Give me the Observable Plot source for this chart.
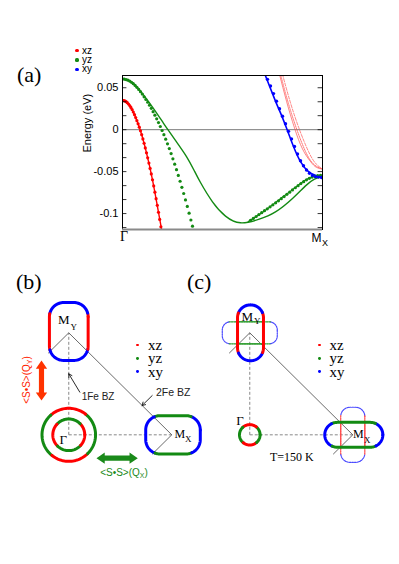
<!DOCTYPE html>
<html><head><meta charset="utf-8">
<script src="https://cdn.jsdelivr.net/npm/d3@7"></script>
<script src="https://cdn.jsdelivr.net/npm/@observablehq/plot@0.6"></script>
<style>
body{margin:0;background:#fff;}
#wrap{position:relative;width:399px;height:564px;overflow:hidden;background:#fff;}
.abs{position:absolute;white-space:nowrap;line-height:1;}
#wrap svg{position:absolute;}
</style></head>
<body><div id="wrap"></div>
<script>
const RED = "#ff0000", GREEN = "#138a13", BLUE = "#0000ff";
const orbitals = ["xz", "yz", "xy"];
const orbitalColors = [RED, GREEN, BLUE];

// ---------- (a) band structure: [k (Γ=0 … M_X=1), E (eV)] ----------
const xzLine = [[0,0.035],[0.03,0.0306],[0.06,0.0179],[0.09,-0.0013],[0.12,-0.0276],[0.15,-0.0598],[0.18,-0.0985],[0.197,-0.121]];
const xzDots = [[0,0.035],[0.006,0.0348],[0.012,0.0343],[0.018,0.0334],[0.024,0.0322],[0.03,0.0306],[0.036,0.0287],[0.042,0.0265],[0.048,0.024],[0.054,0.0211],[0.06,0.0179],[0.066,0.0144],[0.072,0.0108],[0.078,0.007],[0.084,0.003],[0.09,-0.0013],[0.096,-0.006],[0.102,-0.011],[0.108,-0.0162],[0.114,-0.0218],[0.12,-0.0276],[0.126,-0.0336],[0.132,-0.0398],[0.138,-0.0462],[0.144,-0.0528],[0.15,-0.0598],[0.156,-0.067],[0.162,-0.0745],[0.168,-0.0822],[0.174,-0.0902],[0.18,-0.0985],[0.186,-0.107],[0.192,-0.1158]];
const yzLine = [[0,0.0605],[0.05,0.056],[0.1,0.043],[0.15,0.027],[0.2,0.0095],[0.227,0],[0.27,-0.0145],[0.32,-0.032],[0.357,-0.048],[0.39,-0.063],[0.45,-0.086],[0.515,-0.103],[0.59,-0.111],[0.68,-0.107],[0.765,-0.098],[0.85,-0.082],[0.915,-0.067],[0.96,-0.059],[1.0,-0.056]];
const yzDots = [[0,0.0605],[0.009,0.0603],[0.018,0.0598],[0.027,0.059],[0.036,0.0579],[0.045,0.0565],[0.054,0.0548],[0.063,0.0528],[0.072,0.0505],[0.081,0.048],[0.09,0.0453],[0.099,0.0424],[0.108,0.0392],[0.117,0.036],[0.126,0.0327],[0.135,0.0292],[0.144,0.0255],[0.153,0.0215],[0.162,0.0173],[0.171,0.013],[0.18,0.0085],[0.189,0.0038],[0.198,-0.001],[0.207,-0.006],[0.216,-0.0113],[0.225,-0.0168],[0.234,-0.0225],[0.243,-0.0285],[0.252,-0.0347],[0.261,-0.0411],[0.27,-0.0477],[0.279,-0.0545],[0.288,-0.0615],[0.297,-0.0687],[0.306,-0.0761],[0.315,-0.0837],[0.324,-0.0915],[0.333,-0.0995],[0.342,-0.1077],[0.35,-0.115]];
const yzLine2 = [[0.63,-0.1095],[0.64,-0.108],[0.715,-0.096],[0.78,-0.084],[0.85,-0.0715],[0.915,-0.06],[0.96,-0.0555],[1.0,-0.0545]];
const yzDots2 = [[0.64,-0.108],[0.654,-0.1058],[0.668,-0.1035],[0.682,-0.1012],[0.696,-0.0989],[0.71,-0.0966],[0.724,-0.0943],[0.738,-0.092],[0.752,-0.0896],[0.766,-0.0872],[0.78,-0.0848],[0.794,-0.0823],[0.808,-0.0797],[0.822,-0.0771],[0.836,-0.0745],[0.85,-0.0718],[0.864,-0.0692],[0.878,-0.0667],[0.892,-0.0643],[0.906,-0.062],[0.92,-0.0598],[0.934,-0.058],[0.948,-0.0565],[0.962,-0.0555],[0.976,-0.0548],[0.99,-0.0545]];
const xyLine = [[0.712,0.066],[0.73,0.055],[0.75,0.043],[0.77,0.031],[0.79,0.02],[0.82,0.002],[0.855,-0.02],[0.89,-0.038],[0.93,-0.05],[0.97,-0.055],[1.0,-0.0565]];
const xyDots = [[0.725,0.06],[0.74,0.052],[0.755,0.043],[0.77,0.034],[0.785,0.025],[0.8,0.016],[0.815,0.007],[0.83,-0.002],[0.845,-0.011],[0.86,-0.02],[0.875,-0.029],[0.89,-0.037],[0.905,-0.043],[0.92,-0.048],[0.935,-0.052],[0.95,-0.0545],[0.965,-0.056],[0.98,-0.0565],[0.995,-0.057]];
const xzThinA = [[0.785,0.066],[0.82,0.034],[0.86,0.002],[0.9,-0.023],[0.94,-0.038],[0.97,-0.045],[1.0,-0.047]];
const xzThinB = [[0.8,0.066],[0.84,0.032],[0.885,0],[0.93,-0.026],[0.965,-0.04],[1.0,-0.047]];
const xzThinC = [[0.79,0.066],[0.83,0.031],[0.872,0],[0.915,-0.026],[0.955,-0.041],[1.0,-0.047]];
const energyTicks = [0.05, 0, -0.05, -0.1];
const energyMinorTicks = [0.0333, 0.0167, -0.0167, -0.0333, -0.0667, -0.0833, -0.1167];
const energyDomain = [-0.119, 0.0646];

// ---------- (b), (c) Fermi surfaces, k in units of Γ–M ----------
const pocketsB = [
  {kind:"rect", cx:0, cy:1.013, a:0.188, b:0.284, r:0.14, main:RED, end:BLUE, lim:0.18},
  {kind:"rect", cx:1.012, cy:0, a:0.265, b:0.188, r:0.14, main:GREEN, end:BLUE, lim:0.178},
  {kind:"circle", cx:0, cy:0, a:0.26, b:0.26, r:0.26, main:RED, end:GREEN, half:42},
  {kind:"circle", cx:0, cy:0, a:0.155, b:0.155, r:0.155, main:GREEN, end:RED, half:47}
];
const pocketsC = [
  {kind:"rect", cx:0.007, cy:1.0, a:0.126, b:0.274, r:0.126, main:RED, end:BLUE, lim:0.196},
  {kind:"circle", cx:0, cy:0, a:0.1, b:0.1, r:0.1, main:RED, end:GREEN, half:40},
  {kind:"rect", cx:1.01, cy:0, a:0.282, b:0.122, r:0.122, main:GREEN, end:BLUE, lim:0.21}
];
const dottedC = [
  {kind:"rect", cx:0, cy:1.0, a:0.267, b:0.108, r:0.08, main:"#2a9a2a", end:"#4a4aff", lim:0.2, inner:0.126},
  {kind:"rect", cx:1.0, cy:0, a:0.117, b:0.27, r:0.09, main:"#ff4a4a", end:"#4a4aff", lim:0.19, inner:0.122}
];
const bzLines = [[0,1,1,0],[0,1,-0.2,0.8],[1,0,0.81,-0.19]];
const pathLines = [[0,0,0,1],[0,0,1,0]];
const pointerArrows = [[0.107,0.418,0.0,0.598],[0.81,0.385,0.712,0.287]];
const spinArrows = [{x1:-0.265,y1:0.336,x2:-0.265,y2:0.728,color:"#ff3300"},{x1:0.269,y1:-0.229,x2:0.67,y2:-0.229,color:"#1a8a1a"}];

// ---------- helpers ----------
function outline(p) {
  const ax = p.a - p.r, by = p.b - p.r, pts = [];
  const arcs = [[ax, by, 0], [-ax, by, 90], [-ax, -by, 180], [ax, -by, 270]];
  arcs.forEach(([ox, oy, s], i) => {
    for (let t = 0; t <= 90; t += 3) { const th = (s + t) * Math.PI / 180; pts.push([ox + p.r * Math.cos(th), oy + p.r * Math.sin(th)]); }
    const [nx, ny, ns] = arcs[(i + 1) % 4];
    const e = pts[pts.length - 1], th2 = ns * Math.PI / 180;
    const st = [nx + p.r * Math.cos(th2), ny + p.r * Math.sin(th2)];
    for (let j = 1; j < 30; j++) pts.push([e[0] + (st[0] - e[0]) * j / 30, e[1] + (st[1] - e[1]) * j / 30]);
  });
  pts.push(pts[0]);
  return pts;
}
function colorAt(p, dx, dy) {
  if (p.kind === "circle") {
    const phi = Math.atan2(Math.abs(dy), Math.abs(dx)) * 180 / Math.PI;
    return phi > 90 - p.half ? p.main : p.end;
  }
  const along = p.b > p.a ? Math.abs(dy) : Math.abs(dx);
  return along < p.lim ? p.main : p.end;
}
function innerColorAt(p, dx, dy) {
  const across = p.b > p.a ? Math.abs(dy) : Math.abs(dx);
  return across < p.inner ? p.main : null;
}
function segments(pockets, rule = colorAt) {
  const rows = []; let seg = 0;
  pockets.forEach(p => {
    let cur = null;
    outline(p).forEach(([dx, dy]) => {
      const c = rule(p, dx, dy);
      if (c !== cur) { if (cur !== null) rows.push({x: p.cx + dx, y: p.cy + dy, seg, color: cur}); seg++; cur = c; }
      if (c !== null) rows.push({x: p.cx + dx, y: p.cy + dy, seg, color: c});
    });
    seg++;
  });
  return rows;
}
function arrowPolygon(a, sw = 0.025, hw = 0.055, hl = 0.08) {
  const L = Math.hypot(a.x2 - a.x1, a.y2 - a.y1), ux = (a.x2 - a.x1) / L, uy = (a.y2 - a.y1) / L, nx = -uy, ny = ux;
  const b1 = [a.x1 + ux * hl, a.y1 + uy * hl], b2 = [a.x2 - ux * hl, a.y2 - uy * hl];
  const P = (b, w) => [b[0] + nx * w, b[1] + ny * w];
  return [[a.x1, a.y1], P(b1, hw), P(b1, sw), P(b2, sw), P(b2, hw), [a.x2, a.y2], P(b2, -hw), P(b2, -sw), P(b1, -sw), P(b1, -hw), [a.x1, a.y1]];
}
const X = d => d[0], Y = d => d[1];
const wrap = document.getElementById("wrap");
function place(el, left, top) { el.style.left = left + "px"; el.style.top = top + "px"; wrap.appendChild(el); }
function addText(txt, x, y, o = {}) {
  const d = document.createElement("div");
  d.className = "abs";
  d.appendChild(document.createTextNode(txt));
  if (o.sub) {
    const s = document.createElement("span");
    s.textContent = o.sub; s.style.fontSize = "0.7em"; s.style.position = "relative"; s.style.top = "0.3em";
    d.appendChild(s);
    d.appendChild(document.createTextNode(o.after || ""));
  }
  d.style.fontSize = (o.size || 12) + "px";
  if (o.lh) d.style.lineHeight = o.lh;
  d.style.fontFamily = o.serif ? '"Liberation Serif","Times New Roman",serif' : '"Liberation Sans",Arial,sans-serif';
  d.style.color = o.color || "#000";
  const tx = o.anchor === "middle" ? "-50%" : o.anchor === "end" ? "-100%" : "0";
  d.style.transform = `translate(${tx},-50%)` + (o.rotate ? ` rotate(${o.rotate}deg)` : "");
  place(d, x, y);
}
function addDot(x, y, r, color) {
  const d = document.createElement("div");
  d.style.position = "absolute"; d.style.width = d.style.height = 2 * r + "px";
  d.style.borderRadius = "50%"; d.style.background = color;
  place(d, x - r, y - r);
}

// ---------- panel (a) ----------
const fmt = d => d === 0 ? "0" : String(d);
const plotA = Plot.plot({
  width: 399, height: 250,
  marginLeft: 122, marginRight: 77, marginTop: 75, marginBottom: 21,
  x: {domain: [0, 1], axis: null},
  y: {domain: energyDomain, ticks: energyTicks, tickSize: 0, tickPadding: 4, tickFormat: fmt, label: null},
  style: {background: "none", overflow: "visible", fontFamily: '"Liberation Sans",Arial,sans-serif', fontSize: "11px", color: "#000"},
  marks: [
    Plot.ruleY([0], {stroke: "#7a7a7a", strokeWidth: 1}),
    Plot.line(xzThinA, {x: X, y: Y, stroke: "#ff5050", strokeWidth: 0.7, curve: "natural", clip: true}),
    Plot.line(xzThinB, {x: X, y: Y, stroke: "#ff5050", strokeWidth: 0.7, strokeDasharray: "3,1.5", curve: "natural", clip: true}),
    Plot.line(xzThinC, {x: X, y: Y, stroke: "#ff5050", strokeWidth: 0.8, strokeDasharray: "1,1", curve: "natural", clip: true}),
    Plot.line(yzLine, {x: X, y: Y, stroke: GREEN, strokeWidth: 1.4, curve: "natural", clip: true}),
    Plot.line(yzLine2, {x: X, y: Y, stroke: GREEN, strokeWidth: 1.2, curve: "natural", clip: true}),
    Plot.line(xzLine, {x: X, y: Y, stroke: RED, strokeWidth: 1.4, curve: "natural", clip: true}),
    Plot.line(xyLine, {x: X, y: Y, stroke: BLUE, strokeWidth: 1.6, curve: "natural", clip: true}),
    Plot.dot(yzDots, {x: X, y: Y, r: 1.6, fill: GREEN, stroke: "none", clip: true}),
    Plot.dot(yzDots2, {x: X, y: Y, r: 1.6, fill: GREEN, stroke: "none", clip: true}),
    Plot.dot(xzDots, {x: X, y: Y, r: 1.6, fill: RED, stroke: "none", clip: true}),
    Plot.dot(xyDots, {x: X, y: Y, r: 1.7, fill: BLUE, stroke: "none", clip: true}),
    Plot.ruleY(energyTicks.concat(energyMinorTicks), {y: d => d, x1: 0, x2: 0.022, stroke: "#000", strokeWidth: 0.8}),
    Plot.ruleY(energyTicks.concat(energyMinorTicks), {y: d => d, x1: 0.978, x2: 1, stroke: "#000", strokeWidth: 0.8}),
    Plot.frame({stroke: "#000", strokeWidth: 1}),
    Plot.ruleY([energyDomain[0]], {stroke: "#8a8a8a", strokeWidth: 2}),
    Plot.text(["Energy (eV)"], {frameAnchor: "left", rotate: -90, dx: -35, fontSize: 11})
  ]
});
place(plotA, 0, 0);

// ---------- panels (b), (c) ----------
function fsPanel(solid, dotted) {
  const marks = [
    Plot.link(pathLines, {x1: d => d[0], y1: d => d[1], x2: d => d[2], y2: d => d[3], stroke: "#888", strokeWidth: 1, strokeDasharray: "3,2"}),
    Plot.link(bzLines, {x1: d => d[0], y1: d => d[1], x2: d => d[2], y2: d => d[3], stroke: "#444", strokeWidth: 0.8})
  ];
  if (dotted) {
    marks.push(Plot.line(segments(dotted), {x: "x", y: "y", z: "seg", stroke: "color", strokeWidth: 1.2, strokeDasharray: "1.5,1"}));
    marks.push(Plot.line(segments(dotted, innerColorAt), {x: "x", y: "y", z: "seg", stroke: "color", strokeWidth: 1.1}));
  }
  marks.push(Plot.line(segments(solid), {x: "x", y: "y", z: "seg", stroke: "color", strokeWidth: 3}));
  return marks;
}
const fsOptions = marks => Plot.plot({
  width: 200, height: 240, margin: 0,
  x: {domain: [-0.663, 1.279], axis: null},
  y: {domain: [-0.644, 1.709], axis: null},
  color: {type: "identity"},
  style: {background: "none", overflow: "visible"},
  marks
});
const marksB = fsPanel(pocketsB, null).concat([
  Plot.arrow(pointerArrows, {x1: d => d[0], y1: d => d[1], x2: d => d[2], y2: d => d[3], stroke: "#111", strokeWidth: 0.9, headLength: 6}),
  ...spinArrows.map(a => Plot.line(arrowPolygon(a), {x: X, y: Y, fill: a.color, stroke: "none"}))
]);
place(fsOptions(marksB), 0, 260);
place(fsOptions(fsPanel(pocketsC, dottedC)), 180.7, 260);

// ---------- texts ----------
addText("(a)", 17, 75, {serif: true, size: 22});
addText("(b)", 16, 282, {serif: true, size: 22});
addText("(c)", 187, 282, {serif: true, size: 22});
addText("Γ", 124, 237, {serif: true, size: 14, anchor: "middle"});
addText("M", 311.5, 238, {size: 12});
addText("X", 322, 243, {size: 9});
const rowsA = [50.7, 60, 69.3], rowsBC = [345, 358.3, 371.7];
orbitals.forEach((o, i) => {
  addDot(77, rowsA[i], 1.6, orbitalColors[i]);
  addText(o, 82, rowsA[i], {size: 10, lh: 0.85});
  addDot(137.3, rowsBC[i], 1.4, orbitalColors[i]);
  addText(o, 148, rowsBC[i], {serif: true, size: 15, lh: 0.8});
  addDot(319.3, rowsBC[i], 1.4, orbitalColors[i]);
  addText(o, 329.5, rowsBC[i], {serif: true, size: 15, lh: 0.8});
});
addText("M", 58, 319, {serif: true, size: 13});
addText("Y", 70.5, 326.5, {serif: true, size: 9});
addText("Γ", 63.3, 439, {serif: true, size: 13, anchor: "middle"});
addText("M", 174.5, 434, {serif: true, size: 12});
addText("X", 185, 438.5, {serif: true, size: 9});
addText("1Fe BZ", 81.7, 396.5, {size: 10, color: "#222"});
addText("2Fe BZ", 156, 392, {size: 10.5, color: "#222"});
addText("<S\u2022S>(Q", 27, 380, {size: 10, color: "#ff2200", anchor: "middle", rotate: -90, sub: "Y", after: ")"});
addText("<S\u2022S>(Q", 124, 473, {size: 10, color: "#1a8a1a", anchor: "middle", sub: "X", after: ")"});
addText("M", 241.5, 316, {serif: true, size: 13});
addText("Y", 254, 321, {serif: true, size: 9});
addText("Γ", 240, 420, {serif: true, size: 13, anchor: "middle"});
addText("M", 353, 434, {serif: true, size: 12});
addText("X", 364, 440, {serif: true, size: 9});
addText("T=150 K", 270, 457, {serif: true, size: 12});
</script></body></html>
